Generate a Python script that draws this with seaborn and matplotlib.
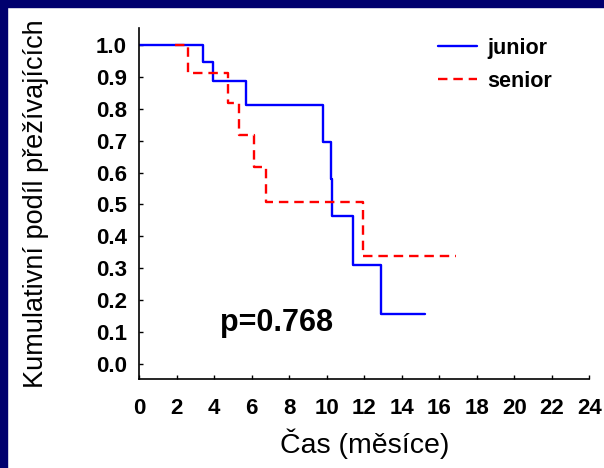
import pandas as pd
import seaborn as sns
import matplotlib.pyplot as plt
from matplotlib.patches import Rectangle

# Kaplan-Meier steps
junior_time = [0.0, 3.41, 3.91, 5.71, 9.81, 10.21, 10.29, 11.41, 12.89, 15.24]
junior_surv = [1.0, 0.946, 0.887, 0.813, 0.697, 0.580, 0.464, 0.309, 0.156, 0.156]
senior_time = [1.90, 2.58, 4.75, 5.33, 6.13, 6.74, 11.91, 16.9]
senior_surv = [1.0, 0.911, 0.817, 0.717, 0.617, 0.509, 0.339, 0.339]

x_ticks = list(range(0, 25, 2))
y_ticks = [i / 10 for i in range(11)]
p_text = "p=0.768"

df = pd.concat([
    pd.DataFrame({"time": junior_time, "surv": junior_surv, "group": "junior"}),
    pd.DataFrame({"time": senior_time, "surv": senior_surv, "group": "senior"}),
])

sns.set_style("ticks")
plt.rcParams['font.family'] = ['Liberation Sans', 'DejaVu Sans']
plt.rcParams['text.color'] = 'black'
plt.rcParams['axes.labelcolor'] = 'black'
plt.rcParams['xtick.color'] = 'black'
plt.rcParams['ytick.color'] = 'black'

fig = plt.figure(figsize=(6.04, 4.68), dpi=100)
fig.patch.set_facecolor("white")
navy = "#00006e"
fig.patches.append(Rectangle((0, 0), 7 / 604, 1, transform=fig.transFigure, color=navy, zorder=-1))
fig.patches.append(Rectangle((0, 1 - 7 / 468), 1, 7 / 468, transform=fig.transFigure, color=navy, zorder=-1))

ax = fig.add_axes([139.3 / 604, 89 / 468, 450 / 604, 351 / 468])

sns.lineplot(data=df, x="time", y="surv", hue="group", style="group",
             palette={"junior": "blue", "senior": "red"},
             dashes={"junior": "", "senior": (4, 2.5)},
             drawstyle="steps-post", estimator=None, sort=False,
             linewidth=1.7, ax=ax)

ax.set_xlim(0, 24)
ax.set_ylim(-0.047, 1.053)
ax.set_xticks(x_ticks)
ax.set_yticks(y_ticks)
ax.set_yticklabels([f"{v:.1f}" for v in y_ticks])
ax.tick_params(direction="in", length=3, width=1, labelsize=16)
ax.tick_params(axis="y", pad=9)
ax.tick_params(axis="x", pad=14)
for lab in ax.get_xticklabels() + ax.get_yticklabels():
    lab.set_fontweight("bold")
sns.despine(ax=ax)
for s in ["left", "bottom"]:
    ax.spines[s].set_linewidth(1.2)
    ax.spines[s].set_color("black")

ax.set_xlabel("Čas (měsíce)", fontsize=20.5)
ax.set_ylabel("Kumulativní podíl přežívajících", fontsize=19.5)
ax.xaxis.set_label_coords(0.5, -0.14)
ax.yaxis.set_label_coords(-0.2, 0.5)

ax.text(7.3, 0.13, p_text, fontsize=22, fontweight="bold", ha="center", va="center")

leg = ax.legend(loc="upper left", bbox_to_anchor=(438 / 604, 1 - 38 / 468),
                bbox_transform=fig.transFigure, frameon=False, borderpad=0,
                borderaxespad=0, handlelength=1.8, handletextpad=0.5,
                labelspacing=0.55, prop={"size": 15.5, "weight": "bold"})

fig.savefig("out.png", dpi=100, facecolor=fig.get_facecolor())
